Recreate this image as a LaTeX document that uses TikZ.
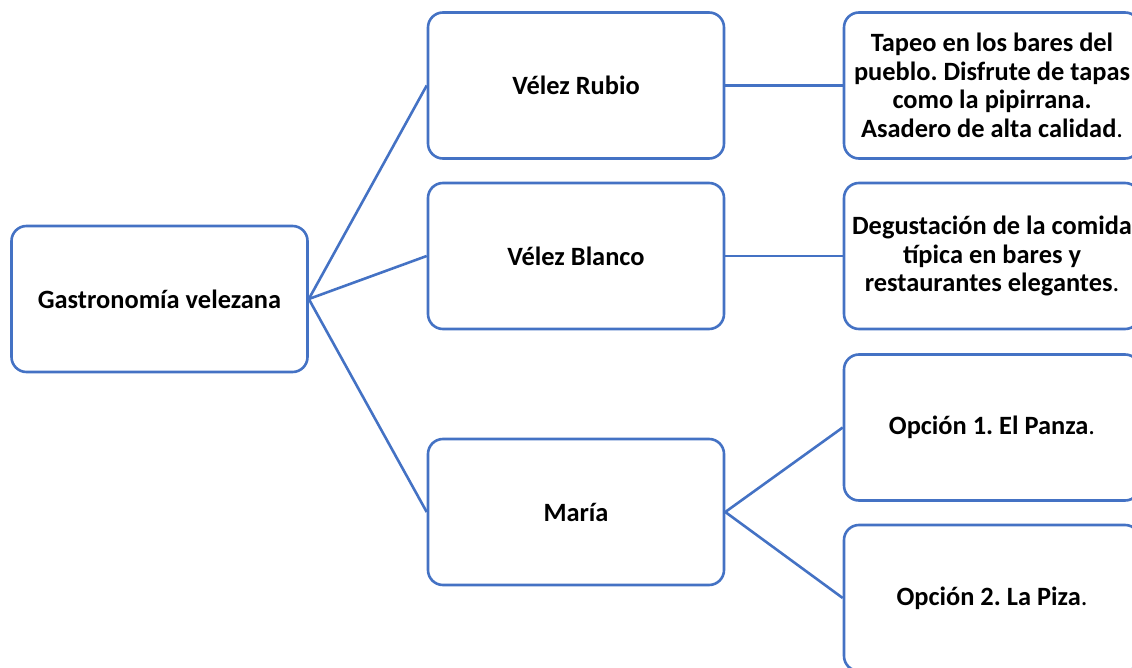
\documentclass[tikz,border=0pt]{standalone}
\usepackage{fontspec}
\setmainfont{Carlito}
\definecolor{office}{HTML}{4472C4}
\begin{document}
\frenchspacing
\begin{tikzpicture}[x=1pt,y=-1pt,
  box/.style={draw=office, line width=2.6pt, rounded corners=15pt, minimum width=296pt, minimum height=146pt, align=center, inner sep=0pt, font=\fontsize{26.4}{28.5}\selectfont\bfseries, text=black, fill=white},
  link/.style={draw=office, line width=2.6pt}]
\clip (0,0) rectangle (1132,668);
\useasboundingbox (0,0) rectangle (1132,668);
\node[box] (root) at (159.5,299) {Gastronomía velezana};
\node[box] (rubio) at (576,85.5) {Vélez Rubio};
\node[box] (blanco) at (576,256) {Vélez Blanco};
\node[box] (maria) at (576,512) {María};
\node[box] (tapeo) at (992,85.5) {Tapeo en los bares del\\pueblo. Disfrute de tapas\\como la pipirrana.\\Asadero de alta calidad\textmd{.}};
\node[box] (degus) at (992,256) {Degustación de la comida\\típica en bares y\\restaurantes elegantes\textmd{.}};
\node[box] (op1) at (992,427.5) {Opción 1. El Panza\textmd{.}};
\node[box] (op2) at (992,598) {Opción 2. La Piza\textmd{.}};
\draw[link] (root.east) -- (rubio.west);
\draw[link] (root.east) -- (blanco.west);
\draw[link] (root.east) -- (maria.west);
\draw[link] (rubio.east) -- (tapeo.west);
\draw[link] (blanco.east) -- (degus.west);
\draw[link] (maria.east) -- (op1.west);
\draw[link] (maria.east) -- (op2.west);
\end{tikzpicture}
\end{document}
